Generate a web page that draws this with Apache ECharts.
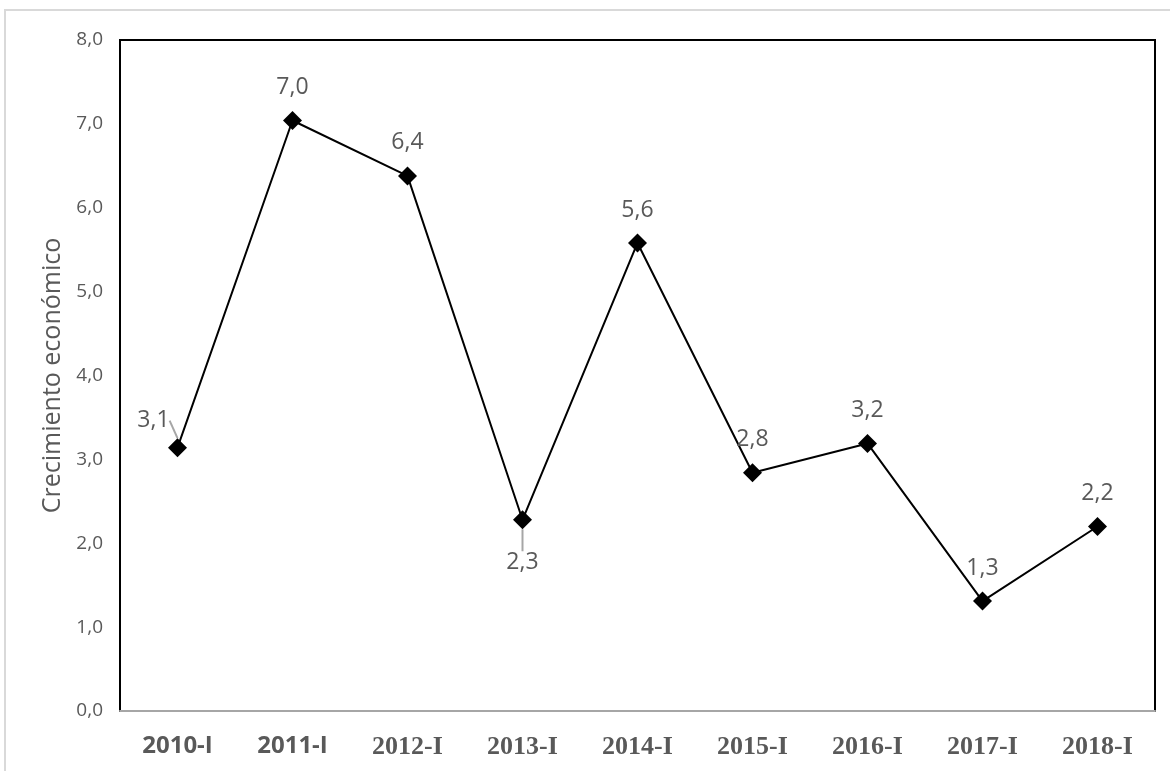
<!DOCTYPE html>
<html>
<head>
<meta charset="utf-8">
<script src="https://cdn.jsdelivr.net/npm/echarts@6/dist/echarts.min.js"></script>
<style>html,body{margin:0;padding:0;background:#fff;}#c{width:1170px;height:771px;}</style>
</head>
<body>
<div id="c"></div>
<script>
const categories = ['2010-I','2011-I','2012-I','2013-I','2014-I','2015-I','2016-I','2017-I','2018-I'];
const values = [3.14, 7.04, 6.38, 2.28, 5.58, 2.84, 3.19, 1.31, 2.2];
const sansCats = ['2010-I','2011-I'];
const leaderIdx = [0, 3];
const yTicks = [0,1,2,3,4,5,6,7,8];
const fmt = v => v.toFixed(1).replace('.', ',');

const chart = echarts.init(document.getElementById('c'));
chart.setOption({
  backgroundColor: '#fff',
  animation: false,
  graphic: [{
    type: 'rect', silent: true, z: -1,
    shape: { x: 5, y: 10, width: 1200, height: 800 },
    style: { fill: 'none', stroke: '#d9d9d9', lineWidth: 2 }
  }],
  grid: { left: 120, top: 40, right: 15, bottom: 60, show: true, borderColor: '#000', borderWidth: 2, backgroundColor: 'transparent' },
  xAxis: {
    type: 'category', data: categories, boundaryGap: true,
    axisLine: { show: true, lineStyle: { color: '#a6a6a6', width: 2 } },
    axisTick: { show: false },
    axisLabel: {
      margin: 23,
      formatter: v => sansCats.includes(v) ? '{s|' + v + '}' : '{t|' + v + '}',
      rich: {
        s: { fontFamily: 'Open Sans', fontWeight: 'bold', fontSize: 24, color: '#595959' },
        t: { fontFamily: 'Liberation Serif', fontWeight: 'bold', fontSize: 26, color: '#595959' }
      }
    }
  },
  yAxis: {
    type: 'value', min: yTicks[0], max: yTicks[yTicks.length - 1], interval: 1,
    name: 'Crecimiento económico', nameLocation: 'middle', nameGap: 55, nameRotate: 90,
    nameTextStyle: { fontFamily: 'Open Sans', fontSize: 25, color: '#595959' },
    axisLine: { show: true, lineStyle: { color: '#000', width: 2 } },
    axisTick: { show: false },
    splitLine: { show: false },
    axisLabel: { margin: 17, fontFamily: 'Open Sans', fontSize: 19, color: '#595959', formatter: v => fmt(v) }
  },
  series: [{
    type: 'line',
    data: values.map((v, i) => leaderIdx.includes(i)
      ? { value: v, labelLine: { show: true, lineStyle: { color: '#a6a6a6', width: 2 } } }
      : { value: v }),
    symbol: 'diamond', symbolSize: 19,
    lineStyle: { color: '#000', width: 2 },
    itemStyle: { color: '#000' },
    label: {
      show: true, position: 'top', distance: 12,
      fontFamily: 'Open Sans', fontSize: 23, color: '#595959',
      formatter: p => fmt(p.value)
    },
    labelLine: { show: false },
    labelLayout: function (p) {
      if (p.dataIndex === 0) return { dx: -24, dy: 6 };
      if (p.dataIndex === 3) return { dy: 76 };
      return {};
    }
  }]
});
</script>
</body>
</html>
